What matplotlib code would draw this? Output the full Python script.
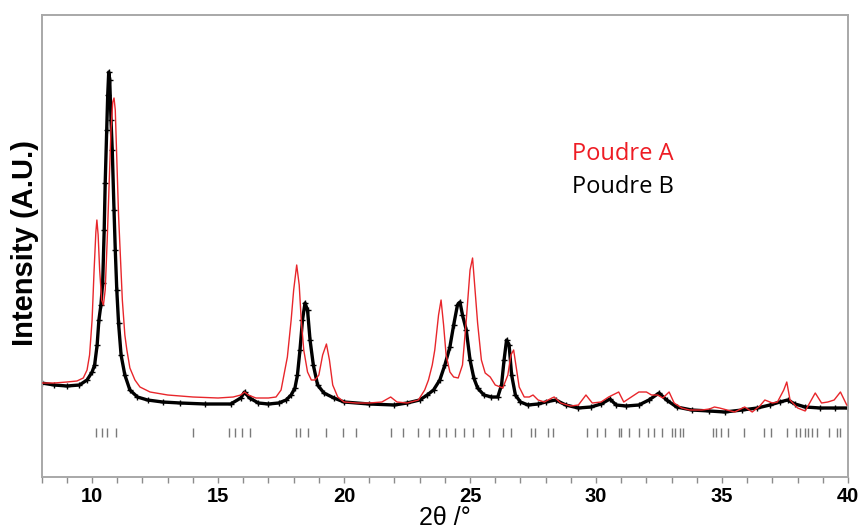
import matplotlib
matplotlib.use("Agg")
import matplotlib.pyplot as plt
from matplotlib.ticker import MultipleLocator
import numpy as np

# ---- data (2theta in degrees, intensity in arbitrary units) ----
a_theta = [8.0, 8.5, 9.0, 9.4, 9.65, 9.8, 9.9, 10.0, 10.08, 10.15, 10.19, 10.24, 10.3, 10.38,
           10.45, 10.52, 10.6, 10.68, 10.75, 10.82, 10.87, 10.92, 10.98, 11.05, 11.11, 11.2,
           11.3, 11.38, 11.5, 11.7, 11.9, 12.3, 13.0, 14.0, 15.0, 15.6, 15.9, 16.05, 16.2, 16.5,
           17.0, 17.3, 17.5, 17.65, 17.75, 17.9, 18.0, 18.12, 18.22, 18.3, 18.4, 18.55, 18.7,
           18.85, 19.0, 19.15, 19.3, 19.42, 19.55, 19.75, 20.0, 20.5, 21.0, 21.5, 21.85, 22.1,
           22.5, 22.95, 23.2, 23.35, 23.5, 23.6, 23.75, 23.85, 23.95, 24.05, 24.2, 24.35, 24.53,
           24.7, 24.85, 25.0, 25.1, 25.2, 25.3, 25.45, 25.6, 25.8, 26.0, 26.3, 26.5, 26.62, 26.73,
           26.85, 26.95, 27.15, 27.35, 27.5, 27.7, 27.95, 28.25, 28.34, 28.6, 29.0, 29.3, 29.6,
           29.85, 30.2, 30.5, 30.9, 31.1, 31.4, 31.7, 32.0, 32.2, 32.45, 32.65, 32.9, 33.1, 33.4,
           33.7, 34.2, 34.5, 34.7, 34.9, 35.2, 35.5, 35.9, 36.2, 36.5, 36.7, 37.0, 37.2, 37.45,
           37.57, 37.7, 38.0, 38.3, 38.7, 38.95, 39.2, 39.45, 39.7, 39.95]
a_int = [94, 94, 95, 96, 99, 107, 122, 157, 207, 245, 257, 242, 207, 177,
         172, 187, 237, 297, 347, 375, 379, 367, 317, 262, 227, 177,
         142, 127, 109, 97, 90, 85, 82, 80, 79, 80, 82, 85, 82, 79,
         79, 80, 87, 107, 120, 157, 187, 212, 192, 157, 127, 105, 97,
         97, 102, 122, 133, 117, 92, 80, 75, 74, 74, 75, 80, 75,
         74, 77, 87, 97, 112, 127, 162, 177, 152, 122, 105, 100, 99,
         112, 157, 207, 219, 187, 154, 117, 104, 100, 92, 89, 102, 122, 127,
         107, 90, 80, 80, 82, 77, 75, 79, 80, 74, 71, 72, 82,
         74, 75, 80, 85, 75, 80, 85, 85, 82, 82, 79, 85, 74, 69,
         67, 67, 68, 70, 69, 67, 65, 70, 65, 71, 77, 74, 75, 87,
         95, 77, 69, 66, 84, 74, 75, 77, 85, 72]

b_theta = [8.0, 8.5, 9.0, 9.5, 9.8, 10.0, 10.1, 10.2, 10.27, 10.35, 10.42, 10.48, 10.52, 10.58,
           10.62, 10.66, 10.7, 10.75, 10.8, 10.87, 10.92, 10.98, 11.05, 11.15, 11.3, 11.5, 11.8,
           12.2, 12.8, 13.5, 14.5, 15.5, 15.9, 16.05, 16.25, 16.6, 17.0, 17.4, 17.7, 17.9, 18.05,
           18.15, 18.25, 18.35, 18.45, 18.55, 18.65, 18.78, 18.95, 19.2, 19.6, 20.0, 21.0, 22.0,
           22.5, 23.0, 23.3, 23.55, 23.8, 24.0, 24.2, 24.35, 24.5, 24.6, 24.7, 24.85, 25.0, 25.15,
           25.3, 25.55, 25.85, 26.1, 26.25, 26.35, 26.45, 26.55, 26.65, 26.8, 27.0, 27.3, 27.7,
           28.0, 28.4, 28.8, 29.3, 29.8, 30.2, 30.55, 30.8, 31.2, 31.7, 32.1, 32.5, 32.8, 33.2,
           33.8, 34.5, 35.1, 35.8, 36.4, 36.9, 37.3, 37.6, 37.9, 38.3, 38.9, 39.5, 40.0]
b_int = [94, 92, 91, 92, 97, 105, 112, 132, 157, 172, 194, 247, 294, 347,
         382, 405, 397, 357, 327, 267, 227, 187, 154, 122, 102, 87, 80,
         77, 75, 74, 73, 73, 79, 85, 79, 74, 73, 74, 77, 82, 89,
         102, 127, 157, 174, 167, 137, 112, 92, 84, 79, 75, 73, 72,
         74, 77, 82, 87, 97, 112, 130, 152, 172, 175, 162, 147, 117, 99,
         89, 82, 80, 80, 92, 117, 137, 132, 102, 82, 75, 72, 73,
         75, 77, 72, 69, 70, 73, 78, 72, 71, 72, 77, 84, 77, 70,
         67, 66, 65, 67, 69, 72, 75, 77, 73, 70, 69, 69, 69]

# reflection positions (tick marks under the patterns)
refl_theta = [10.16, 10.40, 10.60, 10.95, 14.02, 15.45, 15.69, 15.96, 16.28, 18.11, 18.27, 18.55,
              19.30, 19.94, 20.46, 21.85, 22.33, 22.92, 23.36, 23.76, 24.04, 24.40, 24.75, 25.11,
              25.74, 26.30, 26.62, 27.42, 27.56, 28.10, 28.30, 29.65, 30.05, 30.37, 30.92, 31.00,
              31.32, 31.72, 32.07, 32.29, 32.62, 33.01, 33.14, 33.34, 33.46, 34.65, 34.77, 34.97,
              35.25, 35.89, 36.67, 36.96, 37.56, 37.95, 38.09, 38.28, 38.43, 38.56, 38.75, 39.23,
              39.55, 39.67]

series_names = ["Poudre A", "Poudre B"]
x_major = [10, 15, 20, 25, 30, 35, 40]

# ---- figure ----
fig = plt.figure(figsize=(8.6, 5.3), dpi=100)
ax = fig.add_axes([41.7 / 860, 53 / 530, (848 - 41.7) / 860, 462 / 530])

red = "#e8262b"
ax.plot(b_theta, b_int, color="black", lw=2.4, marker="+", ms=4, mew=1.0, zorder=2)
ax.plot(a_theta, a_int, color=red, lw=1.0, zorder=3)
ax.vlines(refl_theta, 40, 49, color="#7a7a7a", lw=1.0)

ax.set_xlim(8, 40)
ax.set_ylim(0, 462)
ax.set_yticks([])
ax.set_xticks(x_major)
ax.xaxis.set_minor_locator(MultipleLocator(1))
ax.tick_params(axis="x", which="both", direction="out", length=4, width=1.0,
               color="#8c8c8c", pad=3)
for lab in ax.get_xticklabels():
    lab.set_fontfamily("Liberation Sans")
    lab.set_fontweight("bold")
    lab.set_fontsize(14.5)
for sp in ax.spines.values():
    sp.set_color("#a8a8a8")
    sp.set_linewidth(1.4)

ax.set_xlabel("2θ /°", fontsize=18, family="Liberation Sans", labelpad=0)
fig.text(25 / 860, 1 - 243 / 530, "Intensity (A.U.)", rotation=90, ha="center", va="center",
         fontsize=21, fontweight="bold", family="Liberation Sans")

fig.text(572 / 860, 1 - 154 / 530, series_names[0], color="#ee1c24", fontsize=17,
         family="Open Sans", ha="left", va="center")
fig.text(572 / 860, 1 - 187 / 530, series_names[1], color="black", fontsize=17,
         family="Open Sans", ha="left", va="center")

fig.savefig("out.png", dpi=100)
